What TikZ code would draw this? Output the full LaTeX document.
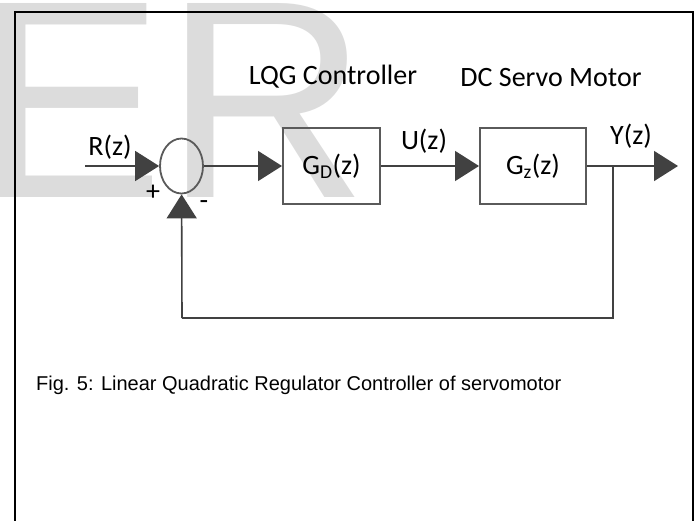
\documentclass[tikz,border=0pt]{standalone}
\usepackage{fontspec}
\setmainfont{Liberation Sans}
\newfontfamily\calfont{Carlito}
\usetikzlibrary{arrows.meta,shapes.geometric}
\definecolor{wmgray}{RGB}{220,220,220}
\definecolor{lncol}{RGB}{65,65,65}
\definecolor{bxcol}{RGB}{90,90,90}
\begin{document}
\begin{tikzpicture}[x=1pt,y=-1pt,
  wmark/.style={font=\fontsize{282}{282}\selectfont, text=wmgray, inner sep=0pt},
  frameline/.style={draw=black, line width=2pt},
  lbl/.style={font=\calfont\fontsize{28}{28}\selectfont, text=black, inner sep=0pt},
  blockbox/.style={draw=bxcol, line width=2pt, minimum height=76pt, inner sep=0pt,
    font=\calfont\fontsize{28}{28}\selectfont},
  sumnode/.style={draw=bxcol, line width=1.8pt, ellipse, minimum width=43pt, minimum height=55pt, inner sep=0pt},
  sig/.style={draw=lncol, line width=1.6pt},
  arr/.style={sig, -{Triangle[length=24pt,width=30pt]}},
  captext/.style={font=\fontsize{20}{20}\selectfont, text=black, inner sep=0pt, anchor=west}
]
\useasboundingbox (0,0) rectangle (699,520);
\clip (0,0) rectangle (699,520);
% watermark
\node[wmark, anchor=base west] (wm) at (-24,197) {ER};
% frame
\draw[frameline] (15,540) -- (15,12) -- (693,12) -- (693,540);
% blocks
\node[sumnode] (sum) at (181.5,166) {};
\node[blockbox, minimum width=97pt] (gd) at (331.5,166) {G\textsubscript{D}(z)};
\node[blockbox, minimum width=106pt] (gz) at (533,166) {G\textsubscript{z}(z)};
% coordinates
\coordinate (in) at (85,166);
\coordinate (br) at (613,166);
\coordinate (out) at (678,166);
\coordinate (brb) at (613,318);
\coordinate (bl) at (182,318);
% connectors
\draw[arr] (in) -- (sum);
\draw[arr] (sum) -- (gd);
\draw[arr] (gd) -- (gz);
\draw[sig] (gz) -- (br);
\draw[arr] (br) -- (out);
\draw[sig] (br) -- (brb) -- (bl);
\draw[arr] (bl) -- (sum);
% labels
\node[lbl] (rz) at (110,147) {R(z)};
\node[lbl] (uz) at (424,141) {U(z)};
\node[lbl] (yz) at (631,136) {Y(z)};
\node[lbl] (plus) at (153,193) {+};
\node[lbl] (minus) at (204,205) {-};
\node[lbl] (lqg) at (333,77) {LQG Controller};
\node[lbl] (dcs) at (551,78) {DC Servo Motor};
\node[captext] (caption) at (36,385) {Fig. 5: Linear Quadratic Regulator Controller of servomotor};
\end{tikzpicture}
\end{document}
